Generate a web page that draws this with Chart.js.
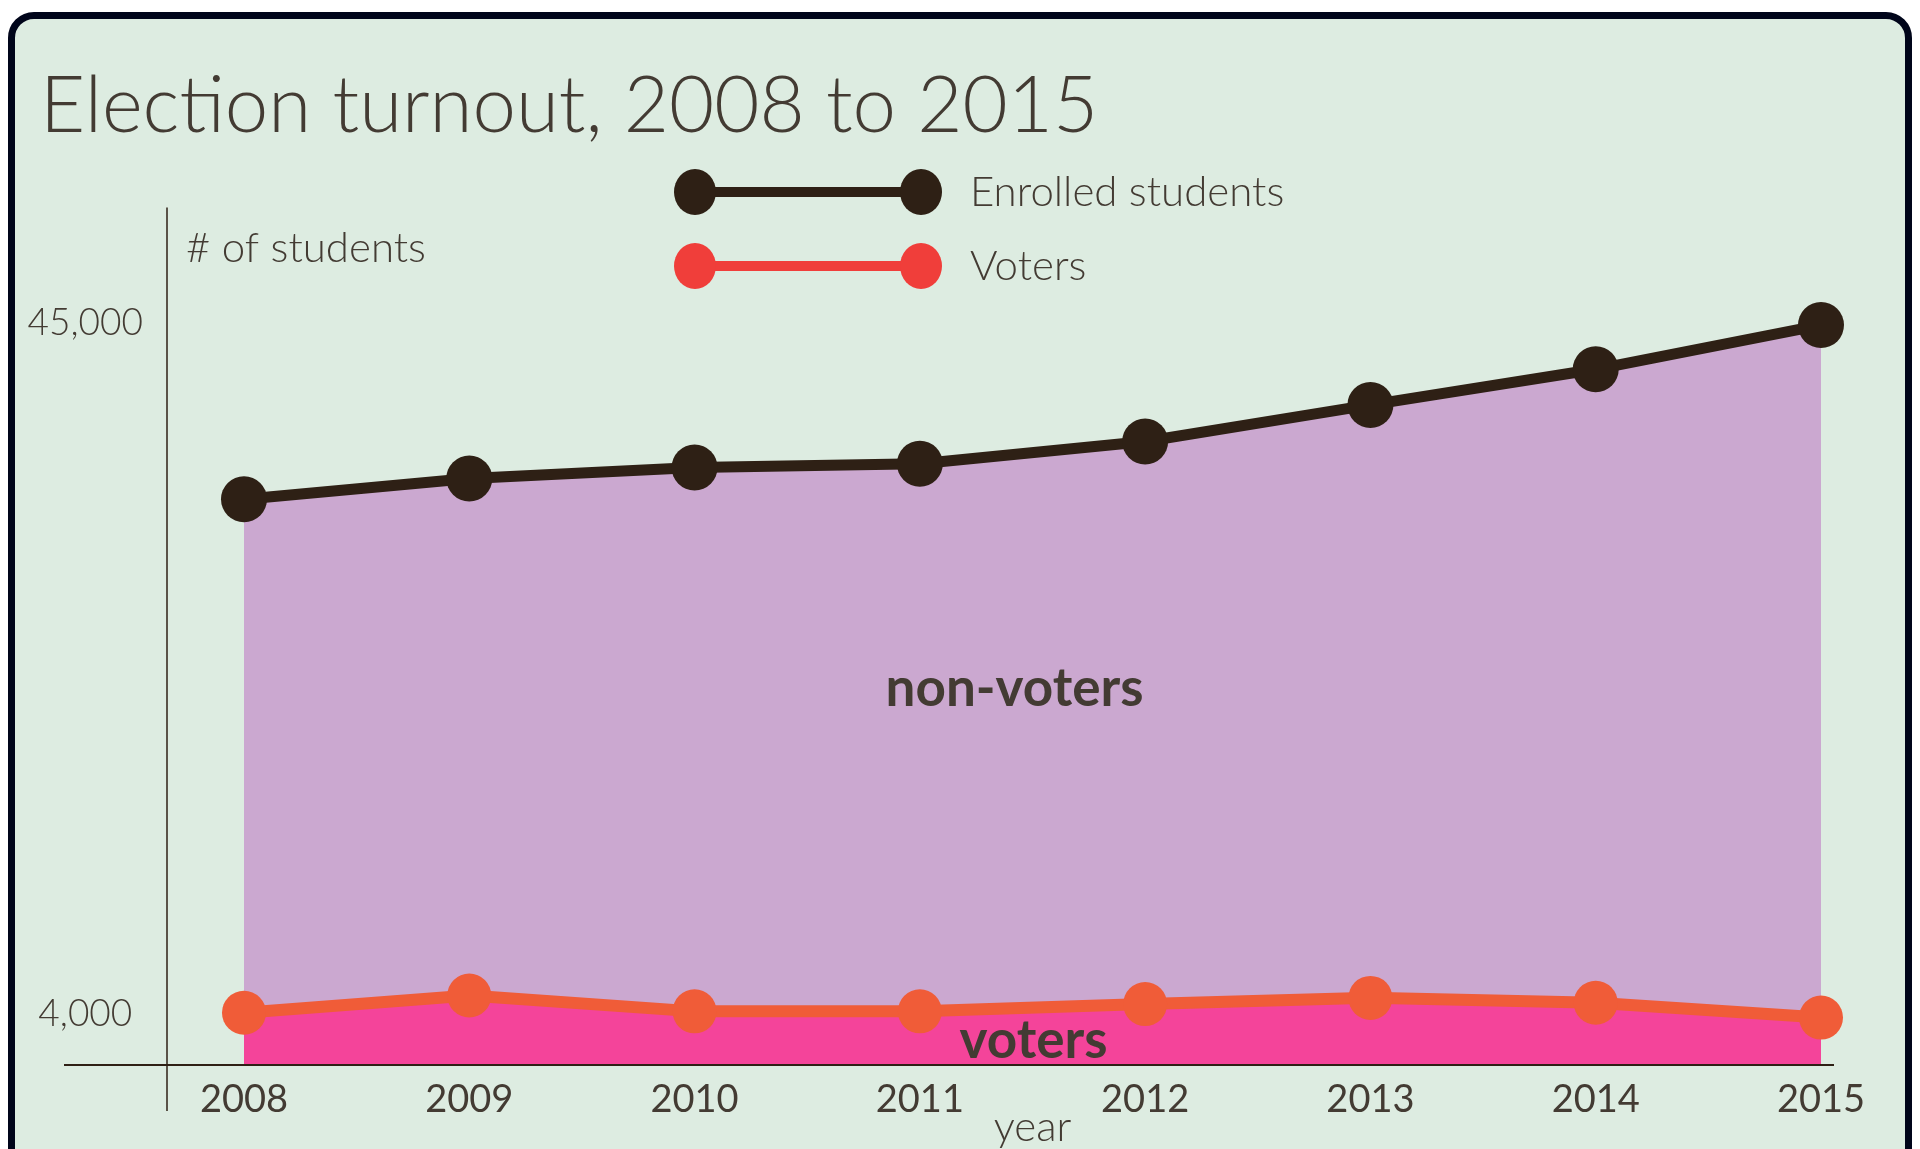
<!DOCTYPE html>
<html>
<head>
<meta charset="utf-8">
<script src="https://cdn.jsdelivr.net/npm/chart.js@4/dist/chart.umd.min.js"></script>
<style>
  html, body { margin: 0; padding: 0; background: #ffffff; width: 1920px; height: 1149px; overflow: hidden; }
  #frame { position: absolute; left: 8px; top: 12px; width: 1890px; height: 1160px;
           border: 7px solid #00051a; border-radius: 26px; background: #ddece1; box-sizing: content-box; }
  #c { position: absolute; left: 0; top: 0; }
</style>
</head>
<body>
<div id="frame"></div>
<canvas id="c" width="1920" height="1149"></canvas>
<script>
// ---- data ----
const years = ['2008', '2009', '2010', '2011', '2012', '2013', '2014', '2015'];
const enrolled = [34550, 35780, 36430, 36650, 37970, 40140, 42250, 44870];
const voters = [4100, 5120, 4180, 4180, 4610, 4980, 4690, 3810];
const yTickValues = [4000, 45000];
const titleText = 'Election turnout, 2008 to 2015';
const seriesNames = ['Enrolled students', 'Voters'];
const yAxisLabel = '# of students';
const xAxisLabel = 'year';
const areaLabels = ['non-voters', 'voters'];

// ---- styles ----
const TEXT = '#433b33';
const DARK = '#2e2015';
const ORANGE = '#f05c38';
const LEGEND_RED = '#f03e3a';
const PURPLE = '#cba8d0';
const PINK = '#f4449a';
const FONT = 'Lato, "Open Sans", sans-serif';

const extras = {
  id: 'extras',
  afterLayout(chart) {
    // let the y tick labels extend left of the layout padding (no clipping)
    chart.scales.y.left = 0;
  },
  beforeDatasetsDraw(chart) {
    const ctx = chart.ctx, a = chart.chartArea;
    ctx.save();
    // y axis line
    ctx.strokeStyle = DARK;
    ctx.lineWidth = 1.5;
    ctx.beginPath();
    ctx.moveTo(a.left - 77, a.top - 31);
    ctx.lineTo(a.left - 77, a.bottom + 46);
    ctx.stroke();
    // y axis caption
    ctx.fillStyle = TEXT;
    ctx.font = '300 42px ' + FONT;
    ctx.textAlign = 'left';
    ctx.textBaseline = 'middle';
    ctx.fillText(yAxisLabel, a.left - 58, a.top + 10);
    ctx.restore();
  },
  afterDatasetsDraw(chart) {
    const ctx = chart.ctx, a = chart.chartArea;
    ctx.save();
    // baseline
    ctx.strokeStyle = DARK;
    ctx.lineWidth = 2;
    ctx.beginPath();
    ctx.moveTo(a.left - 180, a.bottom);
    ctx.lineTo(a.right + 13, a.bottom);
    ctx.stroke();
    // area labels
    ctx.fillStyle = TEXT;
    ctx.font = 'bold 53px ' + FONT;
    ctx.textAlign = 'center';
    ctx.textBaseline = 'middle';
    const cx = (a.left + a.right) / 2;
    ctx.fillText(areaLabels[0], cx - 18, a.top + 450);
    ctx.fillText(areaLabels[1], cx + 1, a.bottom - 24);
    // legend
    const rows = [
      { y: 192, color: DARK, text: seriesNames[0] },
      { y: 266, color: LEGEND_RED, text: seriesNames[1] }
    ];
    rows.forEach(r => {
      ctx.strokeStyle = r.color;
      ctx.fillStyle = r.color;
      ctx.lineWidth = 10;
      ctx.beginPath();
      ctx.moveTo(695, r.y);
      ctx.lineTo(921, r.y);
      ctx.stroke();
      [695, 921].forEach(x => {
        ctx.beginPath();
        ctx.ellipse(x, r.y, 21, 23, 0, 0, Math.PI * 2);
        ctx.fill();
      });
      ctx.fillStyle = TEXT;
      ctx.font = '300 42px ' + FONT;
      ctx.textAlign = 'left';
      ctx.fillText(r.text, 970, r.y);
    });
    ctx.restore();
  }
};

new Chart(document.getElementById('c'), {
  type: 'line',
  data: {
    labels: years,
    datasets: [
      {
        label: seriesNames[0],
        data: enrolled,
        borderColor: DARK,
        backgroundColor: PURPLE,
        borderWidth: 11,
        pointRadius: 23,
        pointHoverRadius: 23,
        pointBackgroundColor: DARK,
        pointBorderWidth: 0,
        fill: '+1',
        tension: 0,
        clip: false
      },
      {
        label: seriesNames[1],
        data: voters,
        borderColor: ORANGE,
        backgroundColor: PINK,
        borderWidth: 12,
        pointRadius: 22,
        pointHoverRadius: 22,
        pointBackgroundColor: ORANGE,
        pointBorderWidth: 0,
        fill: 'start',
        tension: 0,
        clip: false
      }
    ]
  },
  options: {
    responsive: false,
    animation: false,
    devicePixelRatio: 1,
    layout: { padding: { left: 40, right: 99, top: 0, bottom: 1 } },
    plugins: {
      legend: { display: false },
      tooltip: { enabled: false },
      filler: { drawTime: 'beforeDatasetsDraw' },
      title: {
        display: true,
        text: titleText,
        align: 'start',
        color: TEXT,
        font: { family: FONT, size: 78, weight: '300', lineHeight: 1.2 },
        padding: { top: 60, bottom: 85 }
      }
    },
    scales: {
      x: {
        offset: false,
        grid: { display: false, drawTicks: false },
        border: { display: false },
        afterFit(scale) { scale.height = 83; },
        ticks: { color: TEXT, font: { family: FONT, size: 38, lineHeight: 1 }, padding: 16, maxRotation: 0 },
        title: { display: true, text: xAxisLabel, color: TEXT, font: { family: FONT, size: 42, weight: '300', lineHeight: 1 }, padding: { top: 0, bottom: 0 } }
      },
      y: {
        min: 1000,
        max: 50000,
        grid: { display: false, drawTicks: false },
        border: { display: false },
        afterFit(scale) { scale.width = 204; scale.paddingTop = 0; scale.paddingBottom = 0; },
        afterBuildTicks(scale) { scale.ticks = yTickValues.map(v => ({ value: v })); },
        ticks: {
          color: TEXT,
          font: { family: FONT, size: 37, weight: '300' },
          padding: 101,
          crossAlign: 'center',
          callback: v => v.toLocaleString('en-US')
        }
      }
    }
  },
  plugins: [extras]
});
</script>
</body>
</html>
